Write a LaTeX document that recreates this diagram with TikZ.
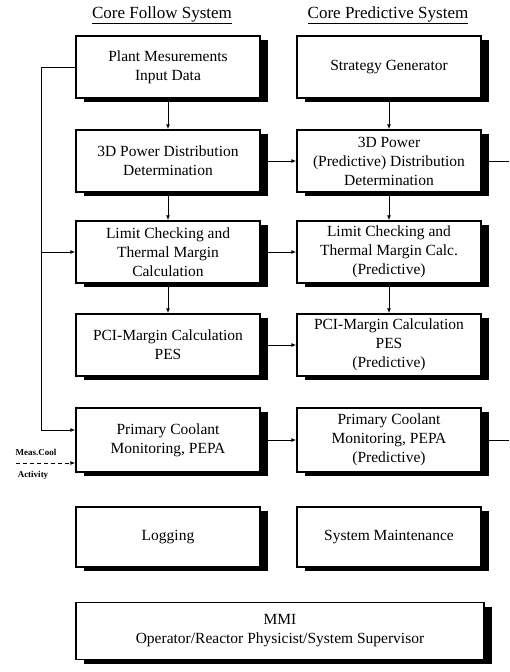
\documentclass[tikz,border=0pt]{standalone}
\usepackage{fontspec}
\setmainfont{Liberation Serif}
\usepackage{tikz}
\usetikzlibrary{arrows.meta, shadows, positioning, calc}
\tikzset{>={Latex[length=5pt,width=4pt]}}
\tikzset{
  sysbox/.style={draw, line width=1.4pt, fill=white, align=center,
    minimum width=184pt, minimum height=62pt, inner sep=2pt,
    font=\fontsize{15.5}{19}\selectfont,
    general shadow={fill=black, shadow xshift=8pt, shadow yshift=-4pt}},
  link/.style={->, line width=1pt},
  head/.style={font=\fontsize{17}{19}\selectfont},
  tag/.style={font=\bfseries\fontsize{9}{10}\selectfont, inner sep=0pt}
}

\begin{document}
\begin{tikzpicture}[x=1pt, y=-1pt]
\useasboundingbox (0,0) rectangle (509,672);

% Column titles
\node[head] (hf) at (162,15) {\underline{Core Follow System}};
\node[head] (hp) at (388,15) {\underline{Core Predictive System}};

% Core follow column
\node[sysbox] (f1) at (168,67) {Plant Mesurements\\Input Data};
\node[sysbox] (f2) at (168,161) {3D Power Distribution\\Determination};
\node[sysbox] (f3) at (168,252) {Limit Checking and\\Thermal Margin\\Calculation};
\node[sysbox] (f4) at (168,345) {PCI-Margin Calculation\\PES};
\node[sysbox, minimum height=64pt] (f5) at (168,440) {Primary Coolant\\Monitoring, PEPA};
\node[sysbox, minimum height=60pt] (f6) at (168,537) {Logging};

% Core predictive column
\node[sysbox] (p1) at (389,67) {Strategy Generator};
\node[sysbox] (p2) at (389,161) {3D Power\\(Predictive) Distribution\\Determination};
\node[sysbox] (p3) at (389,252) {Limit Checking and\\Thermal Margin Calc.\\(Predictive)};
\node[sysbox] (p4) at (389,345) {PCI-Margin Calculation\\PES\\(Predictive)};
\node[sysbox, minimum height=64pt] (p5) at (389,440) {Primary Coolant\\Monitoring, PEPA\\(Predictive)};
\node[sysbox, minimum height=60pt] (p6) at (389,537) {System Maintenance};

% MMI
\node[sysbox, minimum width=408pt, minimum height=57pt] (mmi) at (280,631)
  {MMI\\Operator/Reactor Physicist/System Supervisor};

% Downward flow in both columns
\foreach \c in {f,p} {
  \draw[link] (\c1) -- (\c2);
  \draw[link] (\c2) -- (\c3);
  \draw[link] (\c3) -- (\c4);
}

% Follow -> predictive
\foreach \i in {2,3,4,5}
  \draw[link] (f\i.east) -- (p\i.west);

% Outputs leaving on the right
\coordinate (o2) at (509,161);
\coordinate (o5) at (509,440);
\draw[line width=1pt] (p2.east) -- (o2);
\draw[line width=1pt] (p5.east) -- (o5);

% Measured data feedback
\coordinate (fb) at (41,67);
\draw[line width=1pt] (f1.west) -- (fb) -- (fb |- f3.west);
\draw[link] (fb |- f3.west) -- (f3.west);
\draw[link] (fb |- 0,430) -- ([yshift=10pt]f5.west);
\draw[line width=1pt] (fb |- f3.west) -- (fb |- 0,430);

% Measured coolant activity
\node[tag] (mc) at (36,452) {Meas.Cool};
\node[tag] (act) at (33,475) {Activity};
\coordinate (mcin) at (16,463);
\draw[link, dashed, dash pattern=on 4pt off 3pt] (mcin) -- ([yshift=-23pt]f5.west);

\end{tikzpicture}
\end{document}
